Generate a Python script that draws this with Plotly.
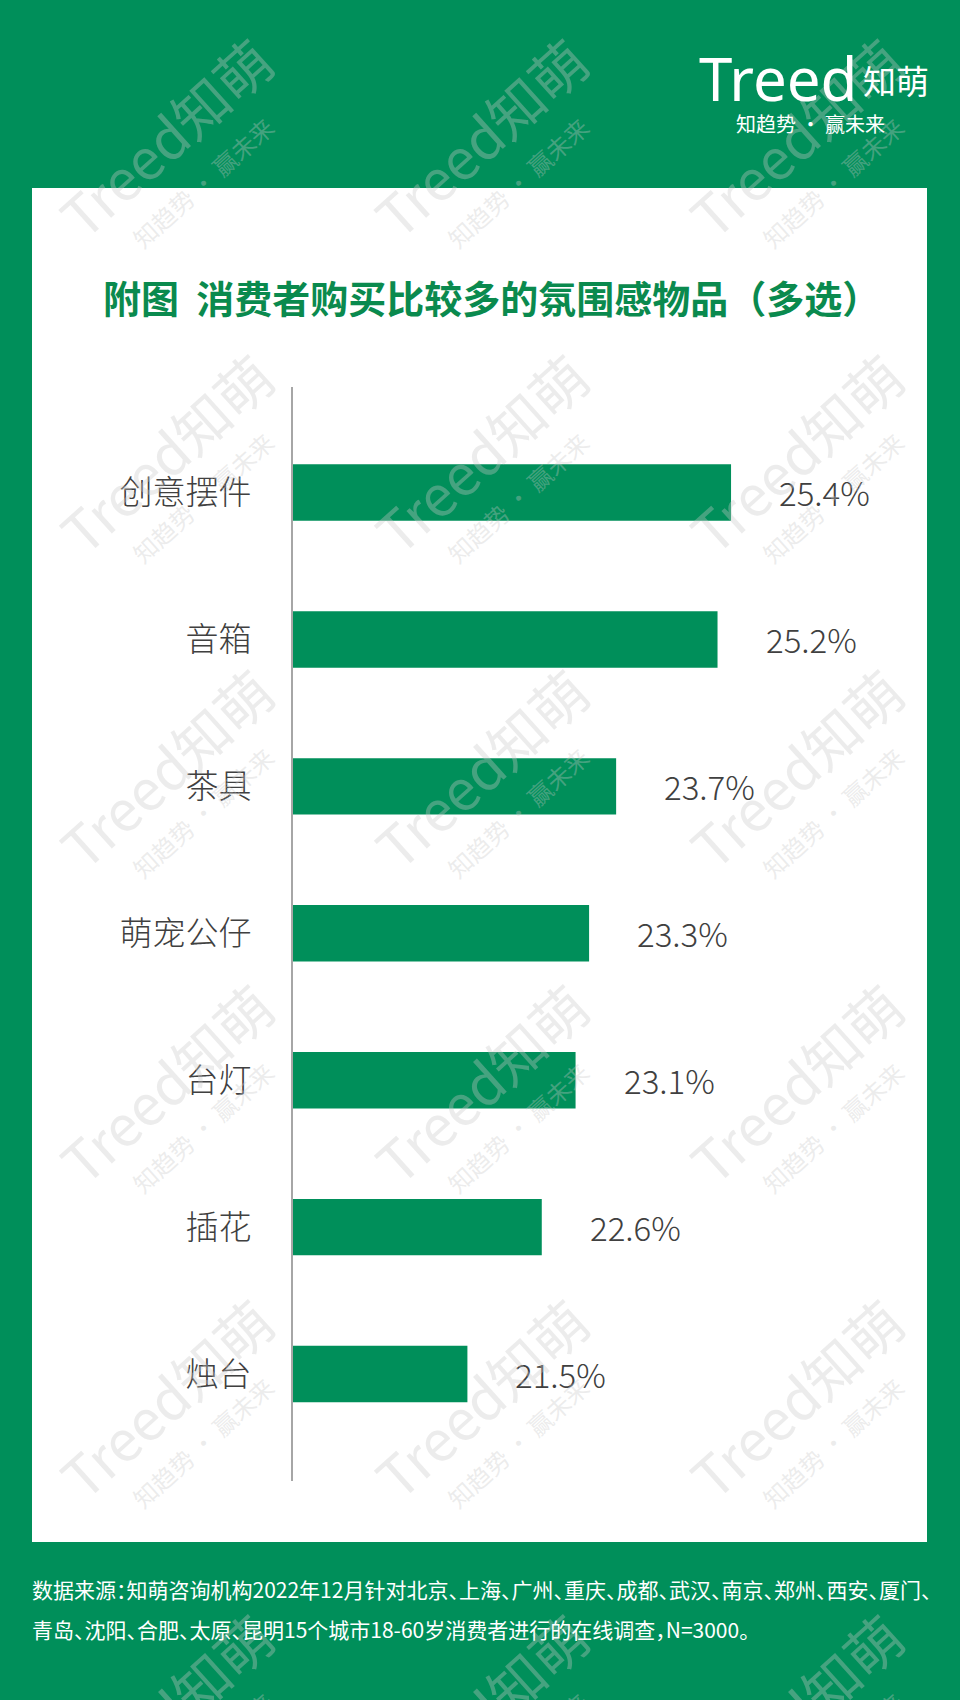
import plotly.graph_objects as go

# ---- data ----
categories = ["创意摆件", "音箱", "茶具", "萌宠公仔", "台灯", "插花", "烛台"]
values = [25.4, 25.2, 23.7, 23.3, 23.1, 22.6, 21.5]
value_labels = ["25.4%", "25.2%", "23.7%", "23.3%", "23.1%", "22.6%", "21.5%"]

title_text = "附图  消费者购买比较多的氛围感物品（多选）"
footer_lines = [
    "数据来源：知萌咨询机构2022年12月针对北京、上海、广州、重庆、成都、武汉、南京、郑州、西安、厦门、",
    "青岛、沈阳、合肥、太原、昆明15个城市18-60岁消费者进行的在线调查，N=3000。",
]
logo_main = "Treed"
logo_cn = "知萌"
logo_sub = "知趋势 · 赢未来"

# ---- layout geometry (pixels) ----
W, H = 960, 1700
L, R, T, B = 293, 60, 387, 219
PW = W - L - R
PH = H - T - B

GREEN = "#008F5A"
CJK = "Noto Sans CJK SC"


def px(x):
    return (x - L) / PW


def py(y):
    return (H - B - y) / PH


fig = go.Figure()
fig.add_trace(go.Bar(
    x=values, y=categories, orientation="h",
    marker=dict(color=GREEN, line=dict(width=0)),
    hoverinfo="skip",
))

annotations = []

# value labels
for c, v, lab in zip(categories, values, value_labels):
    annotations.append(dict(
        x=v, y=c, xref="x", yref="y", text=lab, showarrow=False,
        xanchor="left", yanchor="middle", xshift=46,
        font=dict(family=CJK, size=33, color="#404040", weight=300),
    ))

# watermarks
wm_color = "rgba(200,200,200,0.35)"
wm_xs = [165, 480, 795]
wm_ys = [137, 452, 767, 1082, 1397, 1712]
for cy in wm_ys:
    for cx in wm_xs:
        annotations.append(dict(
            x=px(cx), y=py(cy), xref="paper", yref="paper",
            text=logo_main + logo_cn, showarrow=False, textangle=-42,
            xanchor="center", yanchor="middle",
            font=dict(family=CJK, size=56, color=wm_color),
        ))
        annotations.append(dict(
            x=px(cx + 37), y=py(cy + 45), xref="paper", yref="paper",
            text=logo_sub, showarrow=False, textangle=-42,
            xanchor="center", yanchor="middle",
            font=dict(family=CJK, size=24, color=wm_color),
        ))

# title
annotations.append(dict(
    x=px(101), y=py(296), xref="paper", yref="paper", text=title_text,
    showarrow=False, xanchor="left", yanchor="middle",
    font=dict(family=CJK, size=38, color="#0A8A4E", weight="bold"),
))

# header logo
annotations.append(dict(
    x=px(860), y=py(78), xref="paper", yref="paper", text=logo_main,
    showarrow=False, xanchor="right", yanchor="middle",
    font=dict(family="Noto Sans", size=60, color="white"),
))
annotations.append(dict(
    x=px(861), y=py(80), xref="paper", yref="paper", text=logo_cn,
    showarrow=False, xanchor="left", yanchor="middle",
    font=dict(family=CJK, size=33, color="white"),
))
annotations.append(dict(
    x=px(810), y=py(123), xref="paper", yref="paper", text=logo_sub,
    showarrow=False, xanchor="center", yanchor="middle",
    font=dict(family=CJK, size=20, color="white"),
))

# footer
for i, line in enumerate(footer_lines):
    annotations.append(dict(
        x=px(30), y=py(1589 + 40 * i), xref="paper", yref="paper",
        text="<span style=\"font-feature-settings:'halt'\">" + line + "</span>",
        showarrow=False, xanchor="left", yanchor="middle",
        font=dict(family=CJK, size=21, color="white"),
    ))

shapes = [dict(
    type="rect", xref="paper", yref="paper", layer="below",
    x0=px(32), x1=px(927), y0=py(1542), y1=py(188),
    fillcolor="white", line=dict(width=0),
)]

fig.update_layout(
    width=W, height=H,
    margin=dict(l=L, r=R, t=T, b=B, pad=0),
    paper_bgcolor=GREEN, plot_bgcolor="rgba(0,0,0,0)",
    bargap=0.616, showlegend=False,
    annotations=annotations, shapes=shapes,
    xaxis=dict(range=[18.92, 18.92 + PW / 67.6], visible=False, fixedrange=True),
    yaxis=dict(
        type="category", categoryorder="array", categoryarray=categories,
        range=[6.728, -0.718], showgrid=False, zeroline=False,
        showline=True, linecolor="#a6a6a6", linewidth=2,
        ticks="", ticklabelstandoff=33,
        tickfont=dict(family=CJK, size=33, color="#404040", weight=300),
        fixedrange=True,
    ),
)

fig.write_html("out.html", config={"displayModeBar": False},
               post_script="document.body.style.margin='0';")
